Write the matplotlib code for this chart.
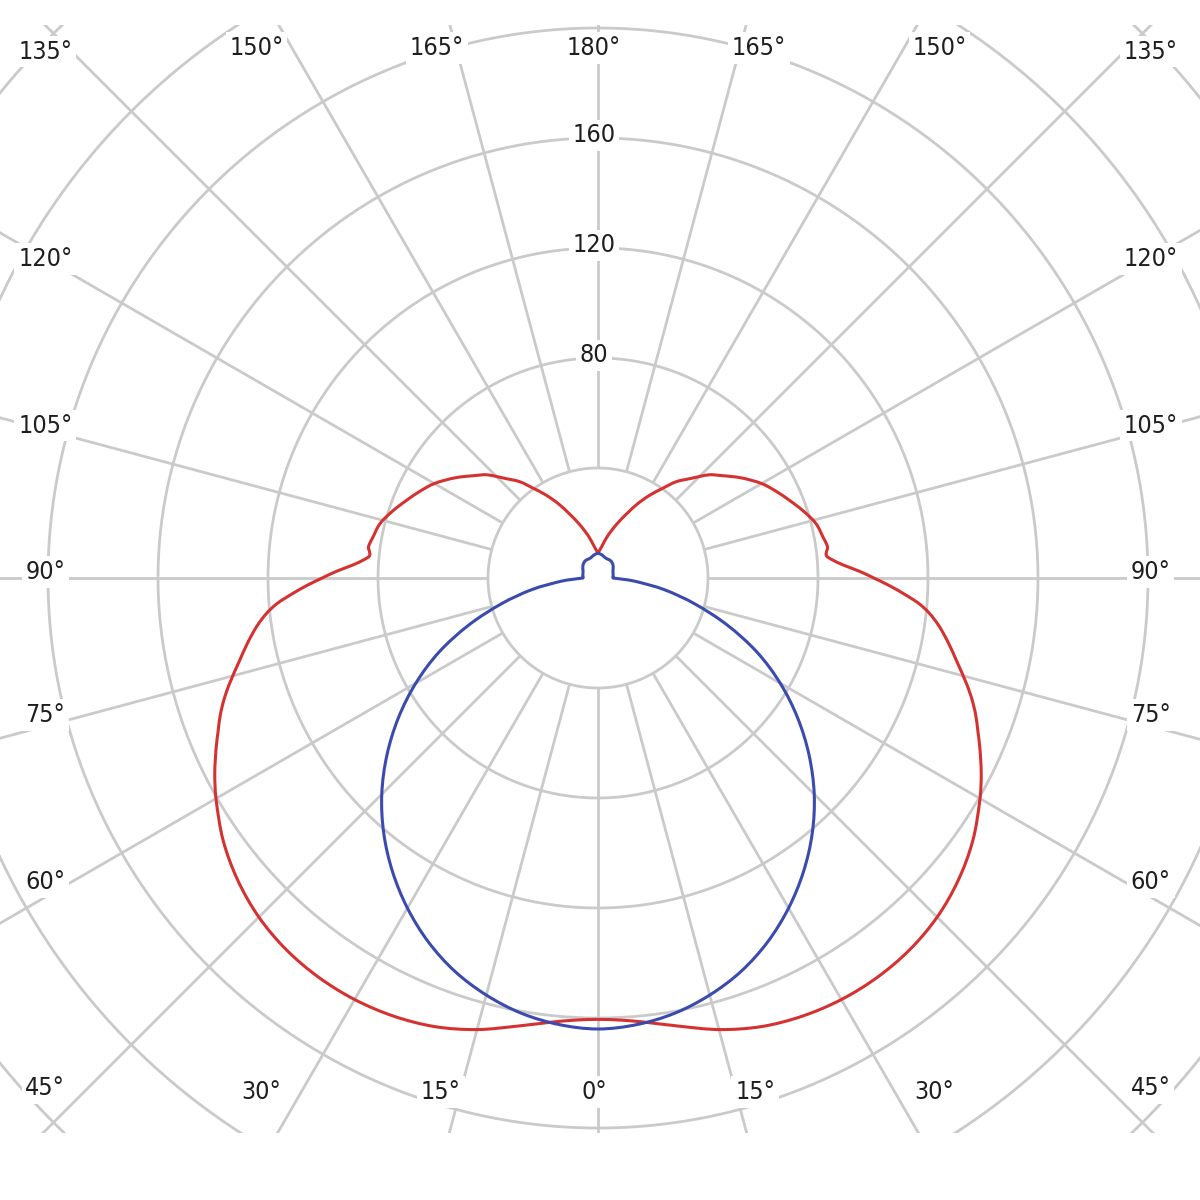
import numpy as np
import matplotlib
matplotlib.use('Agg')
import matplotlib.pyplot as plt
from matplotlib.path import Path
from matplotlib.patches import PathPatch

# polar luminous intensity curves, cd (angle from nadir, degrees)
red_deg = [0, 3, 6, 10, 15, 20, 25, 30, 35, 40, 45, 50, 55, 60, 63, 66, 68, 70, 72, 74,
           77, 79.5, 82, 84, 85.5, 87, 88.5, 90, 91.5, 93, 94.5, 95.5, 96.5, 97.5, 98.5, 100, 104, 108, 112, 116,
           120, 125, 130, 133, 137, 141, 144, 148, 152, 156, 160, 164, 168, 172, 176, 180]
red_cd = [160.5, 161.0, 162.4, 165.4, 170.0, 173.6, 175.8, 177.0, 177.2, 176.4, 174.4, 171.0, 166.4, 160.4, 156.4, 152.0, 149.0, 146.2, 143.0, 139.4,
          133.8, 129.6, 125.2, 121.0, 116.9, 111.5, 106.0, 100.3, 95.0, 89.4, 85.3, 83.5, 83.6, 84.2, 84.0, 83.3, 81.7, 78.6, 75.2, 72.0,
          68.7, 63.5, 58.0, 55.0, 49.5, 45.0, 40.5, 35.5, 30.5, 25.5, 21.5, 18.0, 15.0, 12.2, 10.3, 9.2]

blue_deg = [0, 5, 10, 15, 20, 25, 30, 35, 40, 45, 50, 55, 60, 65, 70, 75, 80, 85, 87, 89,
            90, 100, 115, 128, 138, 146, 154, 162, 170, 180]
blue_cd = [164.0, 163.0, 160.7, 157.0, 152.2, 146.0, 138.6, 130.3, 121.2, 111.2, 100.2, 88.6, 76.5, 63.8, 50.0, 36.5, 24.5, 13.5, 9.2, 6.3,
           5.5, 5.6, 6.0, 7.0, 7.6, 7.8, 7.7, 7.9, 8.5, 9.1]

ring_values = [40, 80, 120, 160, 200, 240, 280, 320, 360]
ring_labels = [80, 120, 160]
angle_ticks = [0, 15, 30, 45, 60, 75, 90, 105, 120, 135, 150, 165, 180]
# small shift (deg) so the angle labels sit beside their spokes
label_nudge = [0, 2, 3.2, 2.3, 1.2, 1.1, 0.6, 0.4, 0, -1.4, -2.8, -1.9, 0]

# layout in pixels
px = 2.75            # pixels per cd
cx, cy = 598, 578    # centre of the diagram
top_px, bottom_px = 25, 1133

fig = plt.figure(figsize=(12, 12), dpi=100)
ax = fig.add_axes([0, (1200 - bottom_px) / 1200, 1, (bottom_px - top_px) / 1200])
ax.set_xlim(-cx / px, (1200 - cx) / px)
ax.set_ylim(-(bottom_px - cy) / px, (cy - top_px) / px)
ax.axis('off')

grid = dict(color='#cacaca', lw=2.0, zorder=1, solid_capstyle='butt')
t = np.linspace(0, 2 * np.pi, 721)
for r in ring_values:
    ax.plot(r * np.cos(t), r * np.sin(t), **grid)
for a in np.arange(0, 360, 15):
    a = np.radians(a)
    ax.plot([40 * np.sin(a), 420 * np.sin(a)], [-40 * np.cos(a), -420 * np.cos(a)], **grid)


def curve_path(deg, cd):
    # both halves (left and right C-plane) as one smooth bezier path,
    # tangents scaled by the angle step so uneven spacing gives no kinks
    deg = np.asarray(deg, float)
    cd = np.asarray(cd, float)
    th = np.radians(deg)
    s = np.concatenate([-deg[::-1], deg[1:]])
    x = np.concatenate([-(cd * np.sin(th))[::-1], (cd * np.sin(th))[1:]])
    y = np.concatenate([-(cd * np.cos(th))[::-1], -(cd * np.cos(th))[1:]])
    p = np.column_stack([x, y])
    n = len(p)
    m = np.zeros_like(p)
    m[1:-1] = (p[2:] - p[:-2]) / (s[2:] - s[:-2])[:, None]
    m[0] = (p[1] - p[0]) / (s[1] - s[0])
    m[-1] = (p[-1] - p[-2]) / (s[-1] - s[-2])
    verts, codes = [p[0]], [Path.MOVETO]
    for i in range(n - 1):
        h = (s[i + 1] - s[i]) / 3
        verts += [p[i] + m[i] * h, p[i + 1] - m[i + 1] * h, p[i + 1]]
        codes += [Path.CURVE4] * 3
    return Path(verts, codes)


ax.add_patch(PathPatch(curve_path(red_deg, red_cd), fill=False, edgecolor='#d63131', lw=2.2, zorder=3))
ax.add_patch(PathPatch(curve_path(blue_deg, blue_cd), fill=False, edgecolor='#3a4aae', lw=2.2, zorder=3))

font = dict(fontsize=18, color='#1e1e1e', family='DejaVu Sans', fontstretch='condensed',
            ha='center', va='center', zorder=5,
            bbox=dict(facecolor='white', edgecolor='none', boxstyle='square,pad=0.15'))

# angle labels on a box around the diagram
half_w = 201.0
y_bot, y_top = -186.9, 192.7
for a, nudge in zip(angle_ticks, label_nudge):
    sides = (1,) if a in (0, 180) else (-1, 1)
    for side in sides:
        th = np.radians(a + nudge)
        dx, dy = side * np.sin(th), -np.cos(th)
        tx = half_w / abs(dx) if abs(dx) > 1e-9 else np.inf
        ty = (abs(y_bot) if dy < 0 else y_top) / abs(dy) if abs(dy) > 1e-9 else np.inf
        k = min(tx, ty)
        ax.text(k * dx - (1.5 if a in (0, 180) else 0), k * dy, f'{a}°', **font)

for v in ring_labels:
    ax.text(-1.5, v + 1, str(v), **font)

fig.savefig('out.png', dpi=100, facecolor='white')
